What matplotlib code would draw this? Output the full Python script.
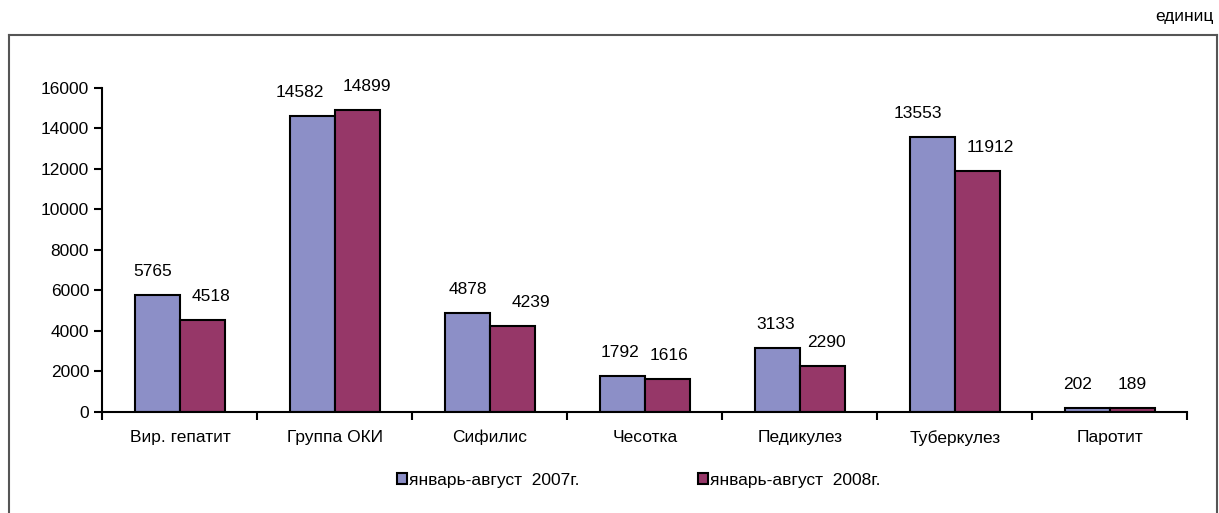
import numpy as np
import matplotlib.pyplot as plt
from matplotlib.lines import Line2D

plt.rcParams['font.family'] = ['Liberation Sans', 'DejaVu Sans']

# data
categories = ["Вир. гепатит", "Группа ОКИ", "Сифилис", "Чесотка",
              "Педикулез", "Туберкулез", "Паротит"]
vals_2007 = [5765, 14582, 4878, 1792, 3133, 13553, 202]
vals_2008 = [4518, 14899, 4239, 1616, 2290, 11912, 189]
series_names = ["январь-август  2007г.", "январь-август  2008г."]
colors = ["#8C8FC7", "#963768"]

# horizontal nudges of value labels (px), like Excel placed them
nudge_2007 = [-5, -13, 0, -2, -1.5, -14, -9.5]
nudge_2008 = [8.5, 10, 19, 1.5, 4, 13, 0]

fs = 12.5

fig = plt.figure(figsize=(12.19, 5.13), dpi=100)
ax = fig.add_axes([0.084, 0.197, 0.890, 0.632])

x = np.arange(len(categories))
w = 0.29
b1 = ax.bar(x - w / 2, vals_2007, w, color=colors[0], edgecolor="black",
            linewidth=1.5, label=series_names[0])
b2 = ax.bar(x + w / 2, vals_2008, w, color=colors[1], edgecolor="black",
            linewidth=1.5, label=series_names[1])

for bars, nudges in ((b1, nudge_2007), (b2, nudge_2008)):
    for r, dx in zip(bars, nudges):
        ax.annotate(str(int(r.get_height())),
                    (r.get_x() + r.get_width() / 2, r.get_height()),
                    xytext=(dx * 0.72, 11.5), textcoords="offset points",
                    ha="center", va="bottom", fontsize=fs)

ax.set_xlim(-0.5, len(categories) - 0.5)
ax.set_ylim(0, 16000)
ax.set_yticks(range(0, 16001, 2000))
ax.tick_params(axis="y", labelsize=fs, length=6, width=1.5, direction="out")

# category labels centred, tick marks on boundaries
ax.set_xticks(x)
ax.set_xticklabels(categories, fontsize=fs)
ax.tick_params(axis="x", which="major", length=0, pad=13)
ax.set_xticks(np.arange(-0.5, len(categories)), minor=True)
ax.tick_params(axis="x", which="minor", length=6, width=1.5, direction="out")

for s in ["top", "right"]:
    ax.spines[s].set_visible(False)
for s in ["left", "bottom"]:
    ax.spines[s].set_linewidth(1.5)

fig.legend(loc="center", bbox_to_anchor=(0.524, 0.064), ncol=2, frameon=False,
           fontsize=fs, handlelength=0.6, handleheight=0.6,
           handletextpad=0.12, columnspacing=6.8)

# outer frame
fl = 9 / 1219
fr = 1217 / 1219
ft = 1 - 35 / 513
for xs, ys in [([fl, fl], [0, ft]), ([fl, fr], [ft, ft]), ([fr, fr], [ft, 0])]:
    fig.add_artist(Line2D(xs, ys, color="#555555", linewidth=1.5,
                          transform=fig.transFigure))

fig.text(1214 / 1219, 1 - 17 / 513, "единиц", ha="right", va="center",
         fontsize=fs)

fig.savefig("out.png", dpi=100)
